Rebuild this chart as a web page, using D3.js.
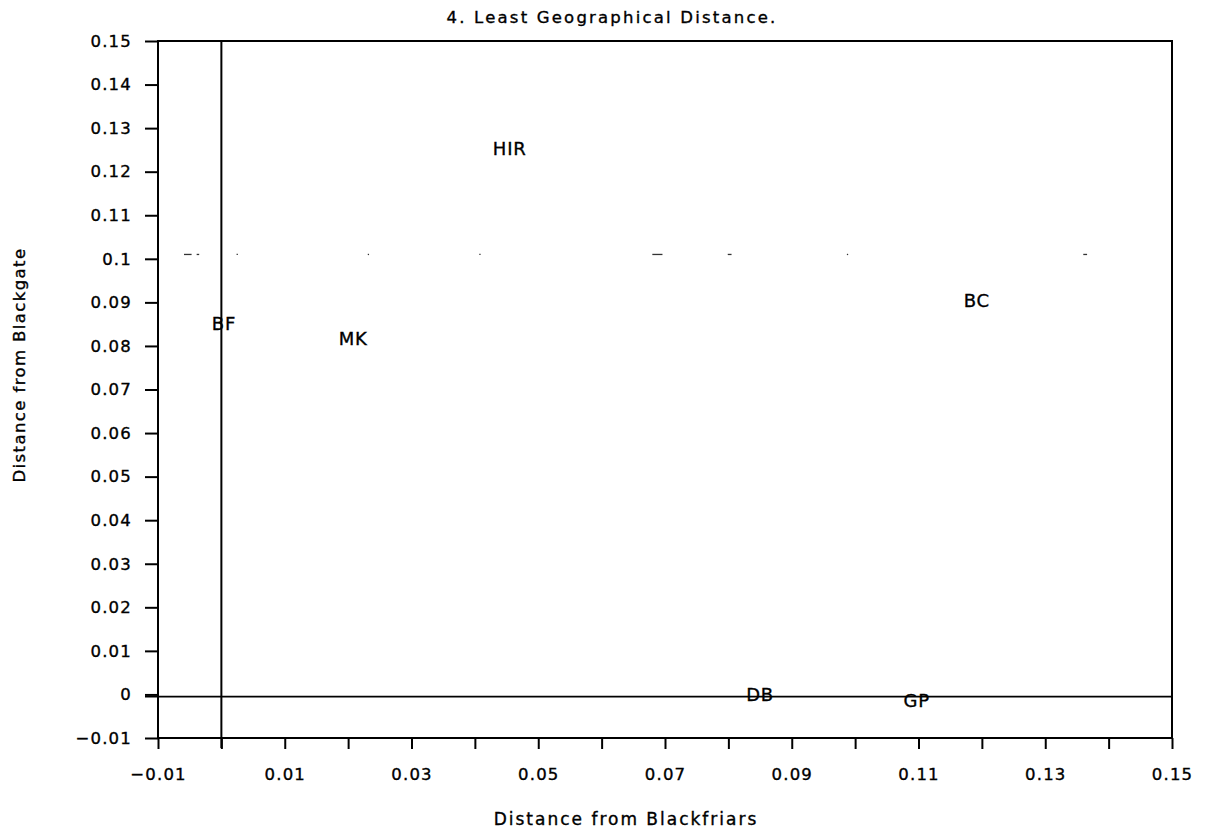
<!DOCTYPE html>
<html>
<head>
<meta charset="utf-8">
<script src="https://cdn.jsdelivr.net/npm/d3@7"></script>
<style>
  body { margin: 0; background: #fff; }
  text { font-family: "DejaVu Sans", "Liberation Sans", sans-serif; fill: #000; }
</style>
</head>
<body>
<svg id="chart" width="1211" height="834"></svg>
<script>
// ---- data ----
const labels = ["HIR", "BC", "BF", "MK", "DB", "GP"];
const xValues = [0.0455, 0.1192, 0.0004, 0.0208, 0.0850, 0.1097];
const yValues = [0.1254, 0.0905, 0.0852, 0.0818, 0.0000, -0.0015];
const xTicks = [-0.01, 0, 0.01, 0.02, 0.03, 0.04, 0.05, 0.06, 0.07, 0.08, 0.09, 0.10, 0.11, 0.12, 0.13, 0.14, 0.15];
const xTickLabels = [-0.01, 0.01, 0.03, 0.05, 0.07, 0.09, 0.11, 0.13, 0.15];
const yTicks = [-0.01, 0, 0.01, 0.02, 0.03, 0.04, 0.05, 0.06, 0.07, 0.08, 0.09, 0.10, 0.11, 0.12, 0.13, 0.14, 0.15];
const refX = 0;          // vertical reference line
const refY = -0.0005;    // horizontal reference line
const dashY = 0.101;     // faint broken line near 0.1
const dashX = [-0.0053, -0.0037, 0.0025, 0.0232, 0.0408, 0.0688, 0.0802, 0.0988, 0.1363];
const dashW = [0.0012, 0.0004, 0.0002, 0.0002, 0.0002, 0.0016, 0.0006, 0.0002, 0.0006];
const title = "4. Least Geographical Distance.";
const xTitle = "Distance from Blackfriars";
const yTitle = "Distance from Blackgate";

// ---- layout ----
const svg = d3.select("#chart");
const mLeft = 158, mRight = 1172, mTop = 41, mBottom = 738;
const x = d3.scaleLinear().domain([-0.01, 0.15]).range([mLeft, mRight]);
const y = d3.scaleLinear().domain([-0.01, 0.15]).range([mBottom, mTop]);

const fmt = v => {
  let s = d3.format(".2f")(v).replace(/0+$/, "").replace(/\.$/, "");
  if (s === "-0") s = "0";
  return s.replace("-", "\u2212");
};
const styleText = sel => sel
  .style("font-family", "DejaVu Sans, sans-serif")
  .attr("fill", "#000").attr("stroke", "#000").attr("stroke-width", 0.35);

// frame
svg.append("rect")
  .attr("x", mLeft).attr("y", mTop)
  .attr("width", mRight - mLeft).attr("height", mBottom - mTop)
  .attr("fill", "none").attr("stroke", "#000").attr("stroke-width", 2);

// y axis
const yAxis = d3.axisLeft(y).tickValues(yTicks).tickSize(13).tickPadding(13).tickFormat(fmt);
const gy = svg.append("g").attr("transform", `translate(${mLeft},0)`).call(yAxis);
gy.select(".domain").remove();
gy.selectAll("line").attr("stroke", "#000").attr("stroke-width", 2);
gy.selectAll("text").attr("font-size", 16.5).attr("letter-spacing", "1.2px").call(styleText);

// x axis
const xAxis = d3.axisBottom(x).tickValues(xTicks).tickSize(11).tickPadding(19)
  .tickFormat(d => xTickLabels.some(v => Math.abs(v - d) < 1e-9) ? fmt(d) : "");
const gx = svg.append("g").attr("transform", `translate(0,${mBottom})`).call(xAxis);
gx.select(".domain").remove();
gx.selectAll("line").attr("stroke", "#000").attr("stroke-width", 2);
gx.selectAll("text").attr("font-size", 16.5).attr("letter-spacing", "1.2px").call(styleText);

// reference lines
svg.append("line")
  .attr("x1", x(refX)).attr("x2", x(refX))
  .attr("y1", mTop).attr("y2", mBottom + 10)
  .attr("stroke", "#000").attr("stroke-width", 2);
svg.append("line")
  .attr("x1", mLeft - 13).attr("x2", mRight)
  .attr("y1", y(refY)).attr("y2", y(refY))
  .attr("stroke", "#000").attr("stroke-width", 1.6);

// broken line near 0.1
svg.append("g").selectAll("line").data(dashX).join("line")
  .attr("x1", (d, i) => x(d - dashW[i] / 2))
  .attr("x2", (d, i) => x(d + dashW[i] / 2))
  .attr("y1", y(dashY)).attr("y2", y(dashY))
  .attr("stroke", "#333").attr("stroke-width", 1.3);

// point labels
svg.append("g").selectAll("text").data(labels).join("text")
  .attr("x", (d, i) => x(xValues[i]))
  .attr("y", (d, i) => y(yValues[i]))
  .attr("text-anchor", "middle")
  .attr("dominant-baseline", "central")
  .attr("font-size", 18)
  .attr("letter-spacing", "0.8px")
  .text(d => d)
  .call(styleText);

// titles
svg.append("text").attr("x", 612).attr("y", 17)
  .attr("text-anchor", "middle").attr("dominant-baseline", "central")
  .attr("font-size", 16.5).attr("letter-spacing", "2.2px").text(title).call(styleText);
svg.append("text").attr("x", 626).attr("y", 819)
  .attr("text-anchor", "middle").attr("dominant-baseline", "central")
  .attr("font-size", 17).attr("letter-spacing", "2px").text(xTitle).call(styleText);
svg.append("text")
  .attr("transform", "translate(19,365) rotate(-90)")
  .attr("text-anchor", "middle").attr("dominant-baseline", "central")
  .attr("font-size", 16.5).attr("letter-spacing", "1.4px").text(yTitle).call(styleText);
</script>
</body>
</html>
